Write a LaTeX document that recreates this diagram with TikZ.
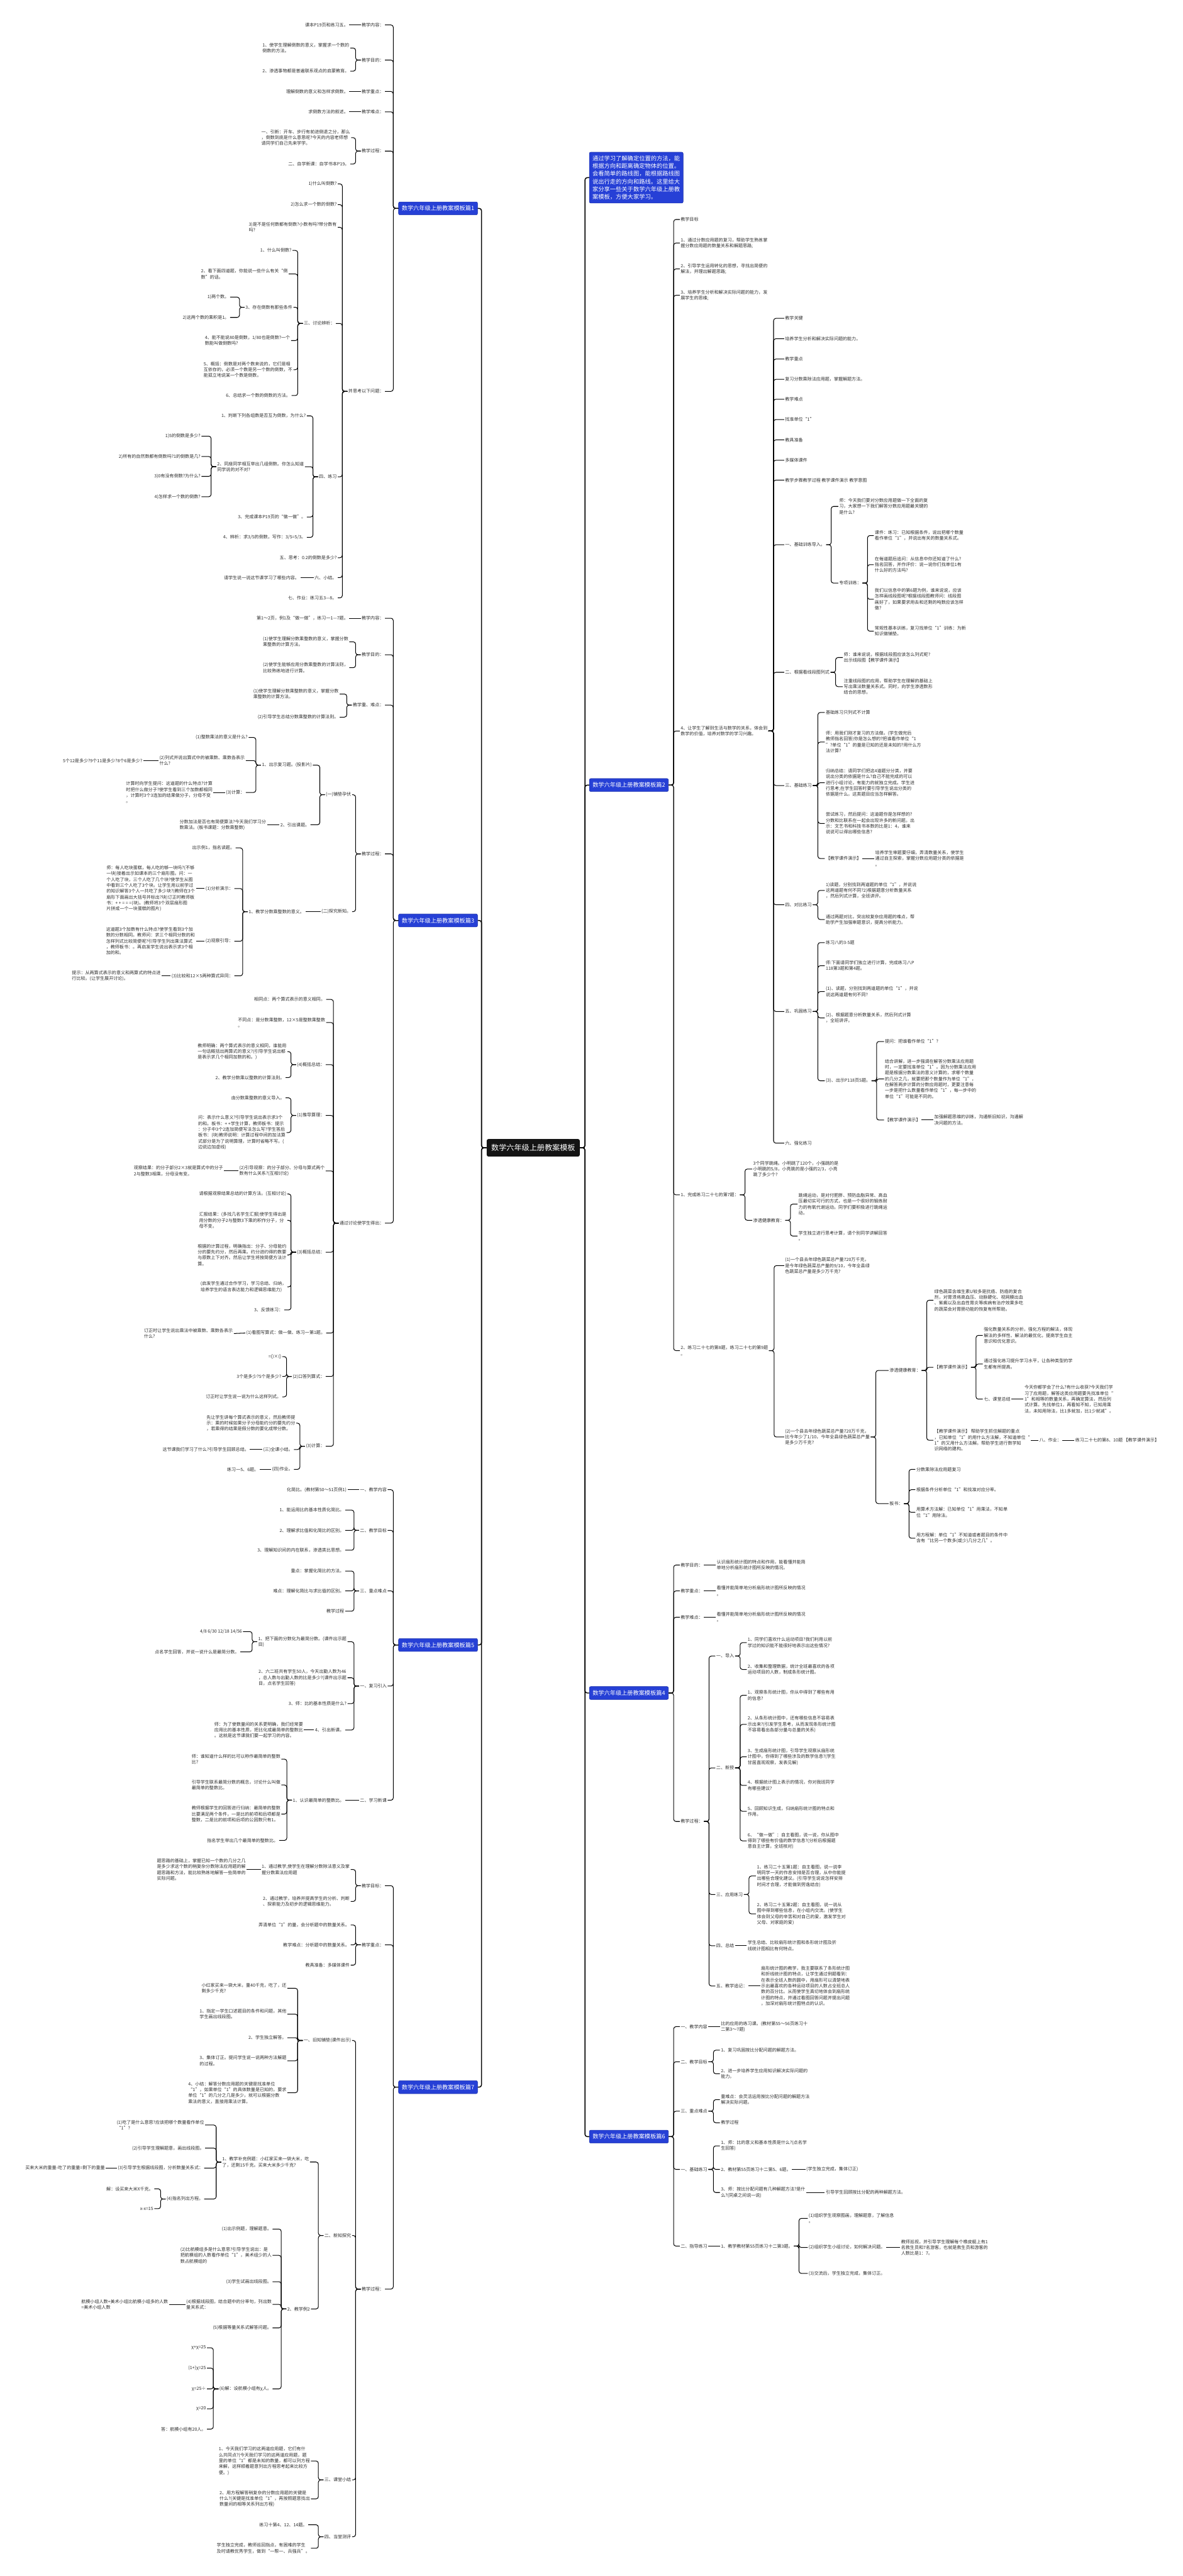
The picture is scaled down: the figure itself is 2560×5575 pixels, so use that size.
\documentclass[tikz,border=0pt]{standalone}
\usepackage{fontspec}
\setmainfont{Noto Sans CJK SC}
\definecolor{pianblue}{RGB}{38,64,214}
\definecolor{hubblack}{RGB}{20,20,20}
\definecolor{txtgray}{RGB}{45,45,45}
\newcommand{\leaffont}{\fontsize{9.6}{12.7}\selectfont}
\newcommand{\pianfont}{\fontsize{12.5}{15}\selectfont}
\newcommand{\hubfont}{\fontsize{16.5}{20}\selectfont}
\newcommand{\introfont}{\fontsize{12.6}{16.8}\selectfont}
\tikzset{
  leaf/.style={font=\leaffont, text=txtgray, align=left, inner sep=2pt},
  lleaf/.style={leaf, anchor=east},
  rleaf/.style={leaf, anchor=west},
  pian/.style={fill=pianblue, draw=pianblue!80!black, line width=0.8pt, rounded corners=3pt, text=white, font=\pianfont, inner xsep=7pt, minimum height=28pt},
  hub/.style={fill=hubblack, rounded corners=4pt, text=white, font=\hubfont, inner xsep=10pt, minimum height=38pt},
  introbox/.style={fill=pianblue, draw=pianblue!80!black, line width=0.8pt, rounded corners=3pt, text=white, font=\introfont, align=left, inner sep=7pt},
  link/.style={draw, line width=1.4pt},
  main/.style={line width=2pt},
  tol/.style={link, rounded corners=5pt, to path={-- ++(-11,0) |- (\tikztotarget)}},
  tor/.style={link, rounded corners=5pt, to path={-- ++(11,0) |- (\tikztotarget)}},
}
\begin{document}
\begin{tikzpicture}[x=1pt, y=-1pt]
\useasboundingbox (0,0) rectangle (2560,5575);
\fill[white] (0,0) rectangle (2560,5575);

% centre and branches
\node[hub] (root) at (1154,2484) {数学六年级上册教案模板};
\node[introbox, anchor=north west] (intro) at (1275,329) {通过学习了解确定位置的方法，能\\根据方向和距离确定物体的位置。\\会看简单的路线图，能根据路线图\\说出行走的方向和路线。这里给大\\家分享一些关于数学六年级上册教\\案模板，方便大家学习。};
\node[pian] (P1) at (948,451) {数学六年级上册教案模板篇1};
\node[pian] (P3) at (948,1992) {数学六年级上册教案模板篇3};
\node[pian] (P5) at (948,3560) {数学六年级上册教案模板篇5};
\node[pian] (P7) at (948,4517) {数学六年级上册教案模板篇7};
\node[pian] (P2) at (1361,1699) {数学六年级上册教案模板篇2};
\node[pian] (P4) at (1361,3664) {数学六年级上册教案模板篇4};
\node[pian] (P6) at (1361,4624) {数学六年级上册教案模板篇6};
\path (root.west) edge[tol,main] (P1.east) edge[tol,main] (P3.east) edge[tol,main] (P5.east) edge[tol,main] (P7.east);
\path (root.east) edge[tor,main] (intro.west) edge[tor,main] (P2.west) edge[tor,main] (P4.west) edge[tor,main] (P6.west);

% 篇1
\node[lleaf] (a1) at (833,54) {教学内容：};
\node[lleaf] (a2) at (833,130) {教学目的：};
\node[lleaf] (a3) at (833,198) {教学重点：};
\node[lleaf] (a4) at (833,242) {教学难点：};
\node[lleaf] (a5) at (833,327) {教学过程：};
\node[lleaf] (a6) at (833,847) {并思考以下问题：};
\node[lleaf] (a11) at (756,54) {课本P19页和练习五。};
\node[lleaf] (a21) at (758,104) {1、使学生理解倒数的意义，掌握求一个数的\\倒数的方法。};
\node[lleaf] (a22) at (758,154) {2、渗透事物都是普遍联系观点的启蒙教育。};
\node[lleaf] (a31) at (756,198) {理解倒数的意义和怎样求倒数。};
\node[lleaf] (a41) at (756,242) {求倒数方法的叙述。};
\node[lleaf] (a51) at (760,298) {一、引新：开车、步行有前进倒退之分，那么\\，倒数到底是什么意思呢?今天的内容老师想\\请同学们自己先来学学。};
\node[lleaf] (a52) at (758,355) {二、自学新课：自学书本P19。};
\node[lleaf] (a61) at (731,398) {1)什么叫倒数?};
\node[lleaf] (a62) at (731,443) {2)怎么求一个数的倒数?};
\node[lleaf] (a63) at (731,492) {3)是不是任何数都有倒数?小数有吗?带分数有\\吗?};
\node[lleaf] (a64) at (727,700) {三、讨论辨析：};
\node[lleaf] (a65) at (731,1032) {四、练习};
\node[lleaf] (a66) at (731,1207) {五、思考：0.2的倒数是多少?};
\node[lleaf] (a67) at (731,1250) {六、小结。};
\node[lleaf] (a68) at (731,1294) {七、作业：练习五3—8。};
\node[lleaf] (a641) at (633,542) {1、什么叫倒数?};
\node[lleaf] (a642) at (625,593) {2、看下面四道题，你能说一些什么有关“倒\\数”的话。};
\node[lleaf] (a643) at (635,665) {3、存在倒数有那些条件};
\node[lleaf] (a644) at (630,737) {4、能不能说80是倒数，1/80也是倒数?一个\\数能叫做倒数吗?};
\node[lleaf] (a645) at (635,800) {5、概括：倒数是对两个数来说的，它们是相\\互依存的，必须一个数是另一个数的倒数，不\\能孤立地说某一个数是倒数。};
\node[lleaf] (a646) at (631,856) {6、总结求一个数的倒数的方法。};
\node[lleaf] (a6431) at (498,643) {1)两个数。};
\node[lleaf] (a6432) at (498,687) {2)这两个数的乘积是1。};
\node[lleaf] (a651) at (664,900) {1、判断下列各组数是否互为倒数，为什么?};
\node[lleaf] (a652) at (660,1010) {2、同座同学相互举出几组倒数。你怎么知道\\同学说的对不对?};
\node[lleaf] (a653) at (664,1119) {3、完成课本P19页的“做一做”。};
\node[lleaf] (a654) at (664,1163) {4、辨析：求3/5的倒数，写作：3/5=5/3。};
\node[lleaf] (a6521) at (436,944) {1)5的倒数是多少?};
\node[lleaf] (a6522) at (436,988) {2)所有的自然数都有倒数吗?1的倒数是几?};
\node[lleaf] (a6523) at (436,1031) {3)0有没有倒数?为什么?};
\node[lleaf] (a6524) at (436,1075) {4)怎样求一个数的倒数?};
\node[lleaf] (a671) at (650,1250) {请学生说一说这节课学习了哪些内容。};
\path (P1.west) edge[tol] (a1.east) edge[tol] (a2.east) edge[tol] (a3.east) edge[tol] (a4.east) edge[tol] (a5.east) edge[tol] (a6.east);
\draw[link] (a1.west) -- (a11.east);
\path (a2.west) edge[tol] (a21.east) edge[tol] (a22.east);
\draw[link] (a3.west) -- (a31.east);
\draw[link] (a4.west) -- (a41.east);
\path (a5.west) edge[tol] (a51.east) edge[tol] (a52.east);
\path (a6.west) edge[tol] (a61.east) edge[tol] (a62.east) edge[tol] (a63.east) edge[tol] (a64.east) edge[tol] (a65.east) edge[tol] (a66.east) edge[tol] (a67.east) edge[tol] (a68.east);
\path (a64.west) edge[tol] (a641.east) edge[tol] (a642.east) edge[tol] (a643.east) edge[tol] (a644.east) edge[tol] (a645.east) edge[tol] (a646.east);
\path (a643.west) edge[tol] (a6431.east) edge[tol] (a6432.east);
\path (a65.west) edge[tol] (a651.east) edge[tol] (a652.east) edge[tol] (a653.east) edge[tol] (a654.east);
\path (a652.west) edge[tol] (a6521.east) edge[tol] (a6522.east) edge[tol] (a6523.east) edge[tol] (a6524.east);
\draw[link] (a67.west) -- (a671.east);

% 篇3
\node[lleaf] (b1) at (833,1338) {教学内容：};
\node[lleaf] (b2) at (833,1417) {教学目的：};
\node[lleaf] (b3) at (833,1526) {教学重、难点：};
\node[lleaf] (b4) at (833,1848) {教学过程：};
\node[lleaf] (b5) at (833,2647) {通过讨论使学生得出：};
\node[lleaf] (b11) at (756,1338) {第1～2页，例1及“做一做”，练习一1—7题。};
\node[lleaf] (b21) at (756,1389) {(1)使学生理解分数乘整数的意义，掌握分数\\乘整数的计算方法。};
\node[lleaf] (b22) at (756,1445) {(2)使学生能够应用分数乘整数的计算法则，\\比较熟练地进行计算。};
\node[lleaf] (b31) at (735,1502) {(1)使学生理解分数乘整数的意义，掌握分数\\乘整数的计算方法。};
\node[lleaf] (b32) at (735,1552) {(2)引导学生总结分数乘整数的计算法则。};
\node[lleaf] (b41) at (762,1720) {(一)铺垫孕伏};
\node[lleaf] (b42) at (762,1973) {(二)探究新知。};
\node[lleaf] (b411) at (677,1656) {1、出示复习题。(投影片)};
\node[lleaf] (b412) at (672,1785) {2、引出课题。};
\node[lleaf] (b4111) at (538,1596) {(1)整数乘法的意义是什么?};
\node[lleaf] (b4112) at (532,1646) {(2)列式并说出算式中的被乘数、乘数各表示\\什么?};
\node[lleaf] (b4113) at (532,1715) {(3)计算：};
\node[lleaf] (b41121) at (310,1646) {5个12是多少?9个11是多少?8个6是多少?};
\node[lleaf] (b41131) at (462,1715) {计算时向学生提问：这道题的什么特点?计算\\时把什么做分子?使学生看到三个加数都相同\\，计算时3个3连加的结果做分子，分母不变\\。};
\node[lleaf] (b4121) at (578,1785) {分数加法是否也有简便算法?今天我们学习分\\数乘法。(板书课题：分数乘整数)};
\node[lleaf] (b421) at (661,1973) {1、教学分数乘整数的意义。};
\node[lleaf] (b4211) at (510,1835) {出示例1，指名读题。};
\node[lleaf] (b4212) at (507,1923) {(1)分析演示：};
\node[lleaf] (b4213) at (507,2037) {(2)观察引导：};
\node[lleaf] (b4214) at (507,2112) {(3)比较和12×5两种算式异同：};
\node[lleaf] (b42121) at (424,1923) {师：每人吃块蛋糕，每人吃的够一块吗?(不够\\一块)接着出示如课本的三个扇形图。问：一\\个人吃了块，三个人吃了几个块?使学生从图\\中看到三个人吃了3个块。让学生用以前学过\\的知识解答3个人一共吃了多少块?(教师在3个\\扇形下面画出大括号并标出?块)订正时教师板\\书：+ + = = =(块)。(教师将3个双层扇形图\\片拼成一个一块蛋糕的图片)};
\node[lleaf] (b42131) at (424,2037) {这道题3个加数有什么特点?使学生看到3个加\\数的分数相同。教师问：求三个相同分数的和\\怎样列式比较简便呢?引导学生列出乘法算式\\，教师板书：。再启发学生说出表示求3个相\\加的和。};
\node[lleaf] (b42141) at (350,2112) {提示：从两算式表示的意义和两算式的特点进\\行比较。(让学生展开讨论)。};
\node[lleaf] (b51) at (706,2163) {相同点：两个算式表示的意义相同。};
\node[lleaf] (b52) at (706,2213) {不同点：是分数乘整数，12×5是整数乘整数\\。};
\node[lleaf] (b53) at (705,2304) {(4)概括总结：};
\node[lleaf] (b54) at (705,2414) {(1)推导算理：};
\node[lleaf] (b55) at (705,2534) {(2)引导观察：的分子部分、分母与算式两个\\数有什么关系?(互相讨论)};
\node[lleaf] (b56) at (705,2710) {(3)概括总结：};
\node[lleaf] (b57) at (706,2885) {(1)看图写算式：做一做、练习一第1题。};
\node[lleaf] (b58) at (705,2979) {(2)口答列算式：};
\node[lleaf] (b59) at (705,3130) {(3)计算：};
\node[lleaf] (b531) at (622,2276) {教师明确：两个算式表示的意义相同，谁能用\\一句话概括出两算式的意义?(引导学生说出都\\是表示求几个相同加数的和。)};
\node[lleaf] (b532) at (618,2332) {2、教学分数乘以整数的计算法则。};
\node[lleaf] (b541) at (618,2376) {由分数乘整数的意义导入。};
\node[lleaf] (b542) at (620,2451) {问：表示什么意义?引导学生说出表示求3个\\的和。板书：+ +学生计算，教师板书：提示\\：分子中3个2连加简便写法怎么写?学生答后\\板书：(块)教师说明：计算过程中间的加法算\\式部分是为了说明算理，计算时省略不写。(\\边说边加虚线)};
\node[lleaf] (b551) at (485,2534) {观察结果：的分子部分2×3就是算式中的分子\\2与整数3相乘，分母没有变。};
\node[lleaf] (b561) at (622,2584) {请根据观察结果总结的计算方法。(互相讨论)};
\node[lleaf] (b562) at (622,2641) {汇报结果：(多找几名学生汇报)使学生得出是\\用分数的分子2与整数3下乘的积作分子，分\\母不变。};
\node[lleaf] (b563) at (622,2716) {根据的计算过程，明确指出：分子、分母能约\\分的要先约分，然后再乘。约分进约得的数要\\与原数上下对齐。然后让学生将按简便方法计\\算。};
\node[lleaf] (b564) at (622,2785) {(启发学生通过合作学习，学习总结、归纳，\\培养学生的语言表达能力和逻辑思维能力)};
\node[lleaf] (b565) at (615,2835) {3、反馈练习：};
\node[lleaf] (b571) at (506,2886) {订正时让学生说出乘法中被乘数、乘数各表示\\什么?};
\node[lleaf] (b581) at (611,2936) {=()×()};
\node[lleaf] (b582) at (611,2979) {3个是多少?5个是多少?};
\node[lleaf] (b583) at (611,3023) {订正时让学生说一说为什么这样列式。};
\node[lleaf] (b591) at (641,3080) {先让学生讲每个算式表示的意义，然后教师提\\示：乘的时候如果分子分母能约分的要先约分\\，若乘得的结果是假分数的要化成带分数。};
\node[lleaf] (b592) at (636,3137) {(三)全课小结。};
\node[lleaf] (b593) at (636,3180) {(四)作业。};
\node[lleaf] (b5921) at (541,3137) {这节课我们学习了什么?引导学生回顾总结。};
\node[lleaf] (b5931) at (562,3180) {练习一5、6题。};
\path (P3.west) edge[tol] (b1.east) edge[tol] (b2.east) edge[tol] (b3.east) edge[tol] (b4.east) edge[tol] (b5.east);
\draw[link] (b1.west) -- (b11.east);
\path (b2.west) edge[tol] (b21.east) edge[tol] (b22.east);
\path (b3.west) edge[tol] (b31.east) edge[tol] (b32.east);
\path (b4.west) edge[tol] (b41.east) edge[tol] (b42.east);
\path (b41.west) edge[tol] (b411.east) edge[tol] (b412.east);
\path (b411.west) edge[tol] (b4111.east) edge[tol] (b4112.east) edge[tol] (b4113.east);
\draw[link] (b4112.west) -- (b41121.east);
\draw[link] (b4113.west) -- (b41131.east);
\draw[link] (b412.west) -- (b4121.east);
\draw[link] (b42.west) -- (b421.east);
\path (b421.west) edge[tol] (b4211.east) edge[tol] (b4212.east) edge[tol] (b4213.east) edge[tol] (b4214.east);
\draw[link] (b4212.west) -- (b42121.east);
\draw[link] (b4213.west) -- (b42131.east);
\draw[link] (b4214.west) -- (b42141.east);
\path (b5.west) edge[tol] (b51.east) edge[tol] (b52.east) edge[tol] (b53.east) edge[tol] (b54.east) edge[tol] (b55.east) edge[tol] (b56.east) edge[tol] (b57.east) edge[tol] (b58.east) edge[tol] (b59.east);
\path (b53.west) edge[tol] (b531.east) edge[tol] (b532.east);
\path (b54.west) edge[tol] (b541.east) edge[tol] (b542.east);
\draw[link] (b55.west) -- (b551.east);
\path (b56.west) edge[tol] (b561.east) edge[tol] (b562.east) edge[tol] (b563.east) edge[tol] (b564.east) edge[tol] (b565.east);
\draw[link] (b57.west) -- (b571.east);
\path (b58.west) edge[tol] (b581.east) edge[tol] (b582.east) edge[tol] (b583.east);
\path (b59.west) edge[tol] (b591.east) edge[tol] (b592.east) edge[tol] (b593.east);
\draw[link] (b592.west) -- (b5921.east);
\draw[link] (b593.west) -- (b5931.east);

% 篇5
\node[lleaf] (c1) at (839,3224) {一、教学内容};
\node[lleaf] (c2) at (839,3312) {二、教学目标};
\node[lleaf] (c3) at (839,3443) {三、重点难点};
\node[lleaf] (c4) at (839,3649) {一、复习引入};
\node[lleaf] (c5) at (839,3896) {二、学习新课};
\node[lleaf] (c11) at (752,3224) {化简比。(教材第50～51页例1)};
\node[lleaf] (c21) at (747,3268) {1、能运用比的基本性质化简比。};
\node[lleaf] (c22) at (747,3312) {2、理解求比值和化简比的区别。};
\node[lleaf] (c23) at (747,3355) {3、理解知识间的内在联系，渗透类比思想。};
\node[lleaf] (c31) at (747,3400) {重点：掌握化简比的方法。};
\node[lleaf] (c32) at (747,3443) {难点：理解化简比与求比值的区别。};
\node[lleaf] (c33) at (747,3487) {教学过程};
\node[lleaf] (c41) at (752,3553) {1、把下面的分数化为最简分数。(课件出示题\\目)};
\node[lleaf] (c42) at (752,3631) {2、六二班共有学生50人，今天出勤人数为46\\，总人数与出勤人数的比是多少?(课件出示题\\目，点名学生回答)};
\node[lleaf] (c43) at (752,3687) {3、师：比的基本性质是什么?};
\node[lleaf] (c44) at (747,3744) {4、引出新课。};
\node[lleaf] (c411) at (526,3531) {4/8 6/30 12/18 14/56};
\node[lleaf] (c412) at (520,3575) {点名学生回答，并说一说什么是最简分数。};
\node[lleaf] (c441) at (658,3744) {师：为了使数量间的关系更明确，我们经常要\\应用比的基本性质，把比化成最简单的整数比\\。这就是这节课我们要一起学习的内容。};
\node[lleaf] (c51) at (747,3896) {1、认识最简单的整数比。};
\node[lleaf] (c511) at (609,3807) {师：谁知道什么样的比可以称作最简单的整数\\比?};
\node[lleaf] (c512) at (609,3863) {引导学生联系最简分数的概念，讨论什么叫做\\最简单的整数比。};
\node[lleaf] (c513) at (609,3926) {教师根据学生的回答进行归纳：最简单的整数\\比要满足两个条件，一是比的前项和后项都是\\整数，二是比的前项和后项的公因数只有1。};
\node[lleaf] (c514) at (604,3983) {指名学生举出几个最简单的整数比。};
\path (P5.west) edge[tol] (c1.east) edge[tol] (c2.east) edge[tol] (c3.east) edge[tol] (c4.east) edge[tol] (c5.east);
\draw[link] (c1.west) -- (c11.east);
\path (c2.west) edge[tol] (c21.east) edge[tol] (c22.east) edge[tol] (c23.east);
\path (c3.west) edge[tol] (c31.east) edge[tol] (c32.east) edge[tol] (c33.east);
\path (c4.west) edge[tol] (c41.east) edge[tol] (c42.east) edge[tol] (c43.east) edge[tol] (c44.east);
\path (c41.west) edge[tol] (c411.east) edge[tol] (c412.east);
\draw[link] (c44.west) -- (c441.east);
\draw[link] (c5.west) -- (c51.east);
\path (c51.west) edge[tol] (c511.east) edge[tol] (c512.east) edge[tol] (c513.east) edge[tol] (c514.east);

% 篇7
\node[lleaf] (d1) at (833,4081) {教学目标：};
\node[lleaf] (d2) at (833,4209) {教学重点：};
\node[lleaf] (d3) at (833,4954) {教学过程：};
\node[lleaf] (d11) at (759,4046) {1、通过教学,使学生在理解分数除法意义及掌\\握分数乘法应用题};
\node[lleaf] (d12) at (759,4115) {2、通过教学，培养并提高学生的分析、判断\\、探索能力及初步的逻辑思维能力。};
\node[lleaf] (d111) at (534,4046) {题思路的基础上，掌握已知一个数的几分之几\\是多少求这个数的稍复杂分数除法应用题的解\\题思路和方法，能比较熟练地解答一些简单的\\实际问题。};
\node[lleaf] (d21) at (759,4166) {弄清单位“1”的量，会分析题中的数量关系。};
\node[lleaf] (d22) at (759,4209) {教学难点：分析题中的数量关系。};
\node[lleaf] (d23) at (759,4253) {教具准备：多媒体课件};
\node[lleaf] (d31) at (762,4416) {一、旧知铺垫(课件出示)};
\node[lleaf] (d32) at (762,4838) {二、新知探究};
\node[lleaf] (d33) at (762,5367) {三、课堂小结};
\node[lleaf] (d34) at (762,5490) {四、当堂测评};
\node[lleaf] (d311) at (622,4303) {小红家买来一袋大米，重40千克，吃了，还\\剩多少千克?};
\node[lleaf] (d312) at (622,4359) {1、指定一学生口述题目的条件和问题，其他\\学生画出线段图。};
\node[lleaf] (d313) at (622,4410) {2、学生独立解答。};
\node[lleaf] (d314) at (622,4460) {3、集体订正。提问学生说一说两种方法解题\\的过程。};
\node[lleaf] (d315) at (622,4529) {4、小结：解答分数应用题的关键是找准单位\\“1”，如果单位“1”的具体数量是已知的，要求\\单位“1”的几分之几是多少，就可以根据分数\\乘法的意义，直接用乘法计算。};
\node[lleaf] (d321) at (671,4679) {1、教学补充例题：小红家买来一袋大米，吃\\了，还剩15千克。买来大米多少千克?};
\node[lleaf] (d322) at (673,4997) {2、教学例2};
\node[lleaf] (d3211) at (444,4599) {(1)吃了是什么意思?应该把哪个数量看作单位\\“1”?};
\node[lleaf] (d3212) at (444,4649) {(2)引导学生理解题意，画出线段图。};
\node[lleaf] (d3213) at (442,4692) {(3)引导学生根据线段图，分析数量关系式：};
\node[lleaf] (d3214) at (442,4759) {(4)指名列出方程。};
\node[lleaf] (d32131) at (229,4692) {买来大米的重量-吃了的重量=剩下的重量};
\node[lleaf] (d32141) at (334,4737) {解：设买来大米X千克。};
\node[lleaf] (d32142) at (334,4780) {x-x=15};
\node[lleaf] (d3221) at (590,4824) {(1)出示例题，理解题意。};
\node[lleaf] (d3222) at (590,4881) {(2)比航模组多是什么意思?引导学生说出：是\\把航模组的人数看作单位“1”，美术组少的人\\数占航模组的};
\node[lleaf] (d3223) at (590,4938) {(3)学生试画出线段图。};
\node[lleaf] (d3224) at (590,4987) {(4)根据线段图，结合题中的分率句，列出数\\量关系式：};
\node[lleaf] (d3225) at (590,5038) {(5)根据等量关系式解答问题。};
\node[lleaf] (d3226) at (590,5170) {(6)解：设航模小组有χ人。};
\node[lleaf] (d32241) at (366,4987) {航模小组人数+美术小组比航模小组多的人数\\=美术小组人数};
\node[lleaf] (d32261) at (448,5081) {χ+χ=25};
\node[lleaf] (d32262) at (448,5125) {(1+)χ=25};
\node[lleaf] (d32263) at (448,5170) {χ=25÷};
\node[lleaf] (d32264) at (448,5213) {χ=20};
\node[lleaf] (d32265) at (448,5257) {答：航模小组有20人。};
\node[lleaf] (d331) at (673,5326) {1、今天我们学习的这两道应用题，它们有什\\么共同点?(今天我们学习的这两道应用题，题\\里的单位“1”都是未知的数量，都可以列方程\\来解，这样顺着题意列出方程思考起来比较方\\便。)};
\node[lleaf] (d332) at (673,5408) {2、用方程解答稍复杂的分数应用题的关键是\\什么?(关键是找准单位“1”，再按照题意找出\\数量间的相等关系列出方程)};
\node[lleaf] (d341) at (667,5464) {练习十第4、12、14题。};
\node[lleaf] (d342) at (673,5515) {学生独立完成，教师巡回指点，有困难的学生\\及时请教优秀学生，做到“一帮一、兵强兵”。};
\path (P7.west) edge[tol] (d1.east) edge[tol] (d2.east) edge[tol] (d3.east);
\path (d1.west) edge[tol] (d11.east) edge[tol] (d12.east);
\draw[link] (d11.west) -- (d111.east);
\path (d2.west) edge[tol] (d21.east) edge[tol] (d22.east) edge[tol] (d23.east);
\path (d3.west) edge[tol] (d31.east) edge[tol] (d32.east) edge[tol] (d33.east) edge[tol] (d34.east);
\path (d31.west) edge[tol] (d311.east) edge[tol] (d312.east) edge[tol] (d313.east) edge[tol] (d314.east) edge[tol] (d315.east);
\path (d32.west) edge[tol] (d321.east) edge[tol] (d322.east);
\path (d321.west) edge[tol] (d3211.east) edge[tol] (d3212.east) edge[tol] (d3213.east) edge[tol] (d3214.east);
\draw[link] (d3213.west) -- (d32131.east);
\path (d3214.west) edge[tol] (d32141.east) edge[tol] (d32142.east);
\path (d322.west) edge[tol] (d3221.east) edge[tol] (d3222.east) edge[tol] (d3223.east) edge[tol] (d3224.east) edge[tol] (d3225.east) edge[tol] (d3226.east);
\draw[link] (d3224.west) -- (d32241.east);
\path (d3226.west) edge[tol] (d32261.east) edge[tol] (d32262.east) edge[tol] (d32263.east) edge[tol] (d32264.east) edge[tol] (d32265.east);
\path (d33.west) edge[tol] (d331.east) edge[tol] (d332.east);
\path (d34.west) edge[tol] (d341.east) edge[tol] (d342.east);

% 篇2
\node[rleaf] (e1) at (1471,475) {教学目标};
\node[rleaf] (e2) at (1471,526) {1、通过分数应用题的复习，帮助学生熟练掌\\握分数应用题的数量关系和解题思路;};
\node[rleaf] (e3) at (1471,582) {2、引导学生运用转化的思想，寻找出简便的\\解法，并理出解题思路;};
\node[rleaf] (e4) at (1471,639) {3、培养学生分析和解决实际问题的能力，发\\展学生的思维;};
\node[rleaf] (e5) at (1471,1582) {4、让学生了解到生活与数学的关系，体会到\\数学的价值，培养对数学的学习兴趣。};
\node[rleaf] (e6) at (1471,2586) {1、完成练习二十七的第7题：};
\node[rleaf] (e7) at (1471,2923) {2、练习二十七的第8题，练习二十七的第9题\\。};
\node[rleaf] (e51) at (1697,689) {教学关键};
\node[rleaf] (e52) at (1697,733) {培养学生分析和解决实际问题的能力。};
\node[rleaf] (e53) at (1697,777) {教学重点};
\node[rleaf] (e54) at (1697,821) {复习分数乘除法应用题，掌握解题方法。};
\node[rleaf] (e55) at (1697,864) {教学难点};
\node[rleaf] (e56) at (1697,908) {找准单位“1”};
\node[rleaf] (e57) at (1697,952) {教具准备};
\node[rleaf] (e58) at (1697,996) {多媒体课件};
\node[rleaf] (e59) at (1697,1039) {教学步骤教学过程 教学课件演示 教学意图};
\node[rleaf] (e5a) at (1697,1179) {一、基础训练导入。};
\node[rleaf] (e5b) at (1697,1455) {二、根据看线段图列式};
\node[rleaf] (e5c) at (1697,1700) {三、基础练习};
\node[rleaf] (e5d) at (1697,1958) {四、对比练习};
\node[rleaf] (e5e) at (1697,2189) {五、巩固练习};
\node[rleaf] (e5f) at (1697,2474) {六、强化练习};
\node[rleaf] (e5a1) at (1814,1096) {师：今天我们要对分数应用题做一下全面的复\\习，大家想一下我们解答分数应用题最关键的\\是什么?};
\node[rleaf] (e5a2) at (1814,1262) {专项训练：};
\node[rleaf] (e5a21) at (1891,1159) {课件：练习：已知根据条件，说出把哪个数量\\看作单位“1”，并说出有关的数量关系式。};
\node[rleaf] (e5a22) at (1891,1222) {在每道题后追问：从信息中你还知道了什么?\\指名回答，并作评价：说一说你们找单位1有\\什么好的方法吗?};
\node[rleaf] (e5a23) at (1891,1297) {我们以信息中的第6题为例，谁来说说，应该\\怎样画线段图呢?根据线段图教师问：线段图\\画好了，如果要求用去和还剩的吨数应该怎样\\做?};
\node[rleaf] (e5a24) at (1891,1366) {常规性基本训练，复习找单位“1”训练：为新\\知识做铺垫。};
\node[rleaf] (e5b1) at (1824,1423) {师：谁来说说，根据线段图应该怎么列式呢?\\出示线段图【教学课件演示】};
\node[rleaf] (e5b2) at (1824,1486) {注重线段图的应用，帮助学生在理解的基础上\\写出乘法数量关系式。同时，向学生渗透数形\\结合的思想。};
\node[rleaf] (e5c1) at (1785,1542) {基础练习只列式不计算};
\node[rleaf] (e5c2) at (1785,1606) {师：用我们刚才复习的方法做。(学生做完后\\教师指名回答)你是怎么想的?把谁看作单位“1\\”?单位“1”的量是已知的还是未知的?用什么方\\法计算?};
\node[rleaf] (e5c3) at (1785,1694) {归纳总结：请同学们把这4道题分分类，并要\\说出分类的依据是什么?自己不能完成的可以\\进行小组讨论，有能力的就独立完成。学生进\\行思考;在学生回答时要引导学生说出分类的\\依据是什么。这类题目应当怎样解答。};
\node[rleaf] (e5c4) at (1785,1782) {尝试练习，然后提问：这道题你是怎样想的?\\分数和比联系在一起会出现许多的新问题。出\\示：文艺书和科技书本数的比是1：4，谁来\\说说可以得出哪些信息?};
\node[rleaf] (e5c5) at (1785,1858) {【教学课件演示】};
\node[rleaf] (e5c51) at (1892,1858) {培养学生审题要仔细，弄清数量关系，使学生\\通过自主探索，掌握分数应用题分类的依据是\\。};
\node[rleaf] (e5d1) at (1785,1927) {1)读题，分别找到两道题的单位“1”，并说说\\这两道题有何不同?2)根据题意分析数量关系\\，然后列式计算，全班讲评。};
\node[rleaf] (e5d2) at (1785,1990) {通过两题对比，突出较复杂应用题的难点，帮\\助学产生加强审题意识，提高分析能力。};
\node[rleaf] (e5e1) at (1785,2040) {练习八的3-5题};
\node[rleaf] (e5e2) at (1785,2090) {师:下面请同学们独立进行计算，完成练习八P\\118第3题和第4题。};
\node[rleaf] (e5e3) at (1785,2146) {(1)、读题，分别找到两道题的单位“1”，并说\\说这两道题有何不同?};
\node[rleaf] (e5e4) at (1785,2203) {(2)、根据题意分析数量关系，然后列式计算\\，全班讲评。};
\node[rleaf] (e5e5) at (1785,2339) {(3)、出示P118页5题。};
\node[rleaf] (e5e51) at (1913,2254) {提问：把谁看作单位“1”?};
\node[rleaf] (e5e52) at (1913,2335) {结合讲解，进一步强调在解答分数乘法应用题\\时，一定要找准单位“1”。因为分数乘法应用\\题是根据分数乘法的意义计算的，求哪个数量\\的几分之几，就要把那个数量作为单位“1”，\\在解答两步计算的分数应用题时，更要注意每\\一步是把什么数量看作单位“1”，每一步中的\\单位“1”可能是不同的。};
\node[rleaf] (e5e53) at (1913,2424) {【教学课件演示】};
\node[rleaf] (e5e531) at (2020,2424) {加强解题思维的训练，沟通新旧知识，沟通解\\决问题的方法。};
\node[rleaf] (e61) at (1628,2530) {3个同学跳绳。小明跳了120个，小强跳的是\\小明跳的5/8，小亮跳的是小强的2/3，小亮\\跳了多少个?};
\node[rleaf] (e62) at (1628,2641) {渗透健康教育：};
\node[rleaf] (e621) at (1726,2606) {跳绳运动，是对付肥胖、预防血脂异常、高血\\压最切实可行的方式，也是一个很好的锻炼耐\\力的有氧代谢运动。同学们要积极进行跳绳运\\动。};
\node[rleaf] (e622) at (1726,2675) {学生独立进行思考计算，请个别同学讲解回答\\。};
\node[rleaf] (e71) at (1697,2739) {(1)一个县去年绿色蔬菜总产量720万千克，\\是今年绿色蔬菜总产量的9/10，今年全县绿\\色蔬菜总产量是多少万千克?};
\node[rleaf] (e72) at (1697,3110) {(2)一个县去年绿色蔬菜总产量720万千克，\\比今年少了1/10，今年全县绿色蔬菜总产量\\是多少万千克?};
\node[rleaf] (e721) at (1923,2966) {渗透健康教育：};
\node[rleaf] (e722) at (1923,3254) {板书：};
\node[rleaf] (e7211) at (2020,2814) {绿色蔬菜含维生素U较多是抗癌、防癌的复合\\剂，对胃溃疡高血压、动脉硬化、视网膜出血\\、紫癜以及出血性胃炎等疾病有治疗效果多吃\\的蔬菜会对胃肠功能的恢复有所帮助。};
\node[rleaf] (e7212) at (2020,2959) {【教学课件演示】};
\node[rleaf] (e7213) at (2020,3117) {【教学课件演示】 帮助学生抓住解题的重点\\，已知单位“1”的用什么方法解，不知道单位“\\1”的又用什么方法解。帮助学生进行数学知\\识网络的建构。};
\node[rleaf] (e72121) at (2127,2890) {强化数量关系的分析，强化方程的解法，体现\\解法的多样性、解法的最优化，提高学生自主\\意识和优化意识。};
\node[rleaf] (e72122) at (2127,2952) {通过强化练习提升学习水平，让各种类型的学\\生都有所提高。};
\node[rleaf] (e72123) at (2127,3028) {七、课堂总结};
\node[rleaf] (e721231) at (2215,3028) {今天你都学会了什么?有什么收获?今天我们学\\习了应用题，解答这类应用题要先找准单位“\\1”和相等的数量关系，再确定算法，然后列\\式计算。先找单位1，再看知不知，已知用乘\\法，未知用除法，比1多就加，比1少就减”。};
\node[rleaf] (e72131) at (2247,3117) {八、作业：};
\node[rleaf] (e721311) at (2325,3117) {练习二十七的第8、10题 【教学课件演示】};
\node[rleaf] (e7221) at (1981,3180) {分数乘除法应用题复习};
\node[rleaf] (e7222) at (1981,3224) {根据条件分析单位“1”和找准对应分率。};
\node[rleaf] (e7223) at (1981,3273) {用算术方法解：已知单位“1”用乘法，不知单\\位“1”用除法。};
\node[rleaf] (e7224) at (1981,3329) {用方程解：单位“1”不知道或者题目的条件中\\含有“比另一个数多(或少)几分之几”。};
\path (P2.east) edge[tor] (e1.west) edge[tor] (e2.west) edge[tor] (e3.west) edge[tor] (e4.west) edge[tor] (e5.west) edge[tor] (e6.west) edge[tor] (e7.west);
\path (e5.east) edge[tor] (e51.west) edge[tor] (e52.west) edge[tor] (e53.west) edge[tor] (e54.west) edge[tor] (e55.west) edge[tor] (e56.west) edge[tor] (e57.west) edge[tor] (e58.west) edge[tor] (e59.west) edge[tor] (e5a.west) edge[tor] (e5b.west) edge[tor] (e5c.west) edge[tor] (e5d.west) edge[tor] (e5e.west) edge[tor] (e5f.west);
\path (e5a.east) edge[tor] (e5a1.west) edge[tor] (e5a2.west);
\path (e5a2.east) edge[tor] (e5a21.west) edge[tor] (e5a22.west) edge[tor] (e5a23.west) edge[tor] (e5a24.west);
\path (e5b.east) edge[tor] (e5b1.west) edge[tor] (e5b2.west);
\path (e5c.east) edge[tor] (e5c1.west) edge[tor] (e5c2.west) edge[tor] (e5c3.west) edge[tor] (e5c4.west) edge[tor] (e5c5.west);
\draw[link] (e5c5.east) -- (e5c51.west);
\path (e5d.east) edge[tor] (e5d1.west) edge[tor] (e5d2.west);
\path (e5e.east) edge[tor] (e5e1.west) edge[tor] (e5e2.west) edge[tor] (e5e3.west) edge[tor] (e5e4.west) edge[tor] (e5e5.west);
\path (e5e5.east) edge[tor] (e5e51.west) edge[tor] (e5e52.west) edge[tor] (e5e53.west);
\draw[link] (e5e53.east) -- (e5e531.west);
\path (e6.east) edge[tor] (e61.west) edge[tor] (e62.west);
\path (e62.east) edge[tor] (e621.west) edge[tor] (e622.west);
\path (e7.east) edge[tor] (e71.west) edge[tor] (e72.west);
\path (e72.east) edge[tor] (e721.west) edge[tor] (e722.west);
\path (e721.east) edge[tor] (e7211.west) edge[tor] (e7212.west) edge[tor] (e7213.west);
\path (e7212.east) edge[tor] (e72121.west) edge[tor] (e72122.west) edge[tor] (e72123.west);
\draw[link] (e72123.east) -- (e721231.west);
\draw[link] (e7213.east) -- (e72131.west);
\draw[link] (e72131.east) -- (e721311.west);
\path (e722.east) edge[tor] (e7221.west) edge[tor] (e7222.west) edge[tor] (e7223.west) edge[tor] (e7224.west);

% 篇4
\node[rleaf] (f1) at (1471,3387) {教学目的：};
\node[rleaf] (f2) at (1471,3443) {教学重点：};
\node[rleaf] (f3) at (1471,3500) {教学难点：};
\node[rleaf] (f4) at (1471,3942) {教学过程：};
\node[rleaf] (f11) at (1549,3387) {认识扇形统计图的特点和作用，能看懂并能简\\单地分析扇形统计图所反映的情况。};
\node[rleaf] (f21) at (1549,3443) {看懂并能简单地分析扇形统计图所反映的情况\\。};
\node[rleaf] (f31) at (1549,3500) {看懂并能简单地分析扇形统计图所反映的情况\\。};
\node[rleaf] (f41) at (1548,3584) {一、导入};
\node[rleaf] (f42) at (1548,3826) {二、新授};
\node[rleaf] (f43) at (1548,4100) {三、应用练习};
\node[rleaf] (f44) at (1548,4211) {四、总结};
\node[rleaf] (f45) at (1548,4298) {五、教学追记：};
\node[rleaf] (f411) at (1616,3555) {1、同学们喜欢什么运动项目?我们利用以前\\学过的知识能不能很好地表示出这些情况?};
\node[rleaf] (f412) at (1616,3613) {2、收集和整理数据，统计全班最喜欢的各项\\运动项目的人数，制成条形统计图。};
\node[rleaf] (f421) at (1616,3669) {1、观察条形统计图，你从中得到了哪些有用\\的信息?};
\node[rleaf] (f422) at (1616,3732) {2、从条形统计图中，还有哪些信息不容易表\\示出来?(引发学生思考，从而发现条形统计图\\不容易看出各部分量与总量的关系)};
\node[rleaf] (f423) at (1616,3802) {3、生成扇形统计图，引导学生观察从扇形统\\计图中，你得到了哪些涉及的数学信息?(学生\\甘居直观观察，发表见解)};
\node[rleaf] (f424) at (1616,3864) {4、根据统计图上表示的情况，你对我班同学\\有哪些建议?};
\node[rleaf] (f425) at (1616,3920) {5、回顾知识生成，归纳扇形统计图的特点和\\作用。};
\node[rleaf] (f426) at (1616,3984) {6、“做一做”：自主看图，说一说，你从图中\\得到了哪些有价值的数学信息?(分析后根据题\\意自主计算，全班核对)};
\node[rleaf] (f431) at (1636,4060) {1、练习二十五第1题：自主看图，说一说李\\明同学一天的作息安排是否合理，从中你能提\\出哪些合理化建议。(引导学生说说怎样安排\\时间才合理，才能做到劳逸结合)};
\node[rleaf] (f432) at (1636,4142) {2、练习二十五第2题：自主看图，说一说从\\图中得到哪些信息，在小组内交流。(使学生\\体会到父母的辛苦和对自己的爱，激发学生对\\父母、对家庭的爱)};
\node[rleaf] (f441) at (1616,4211) {学生总结、比较扇形统计图和条形统计图及折\\线统计图相比有何特点。};
\node[rleaf] (f451) at (1645,4298) {扇形统计图的教学，我主要联系了条形统计图\\和折线统计图的特点，让学生通过例题看到：\\在表示全班人数的圆中，用扇形可以清楚地表\\示出最喜欢的各种运动项目的人数占全班总人\\数的百分比。从而使学生真切地体会到扇形统\\计图的特点，并通过看图回答问题并提出问题\\，加深对扇形统计图特点的认识。};
\path (P4.east) edge[tor] (f1.west) edge[tor] (f2.west) edge[tor] (f3.west) edge[tor] (f4.west);
\draw[link] (f1.east) -- (f11.west);
\draw[link] (f2.east) -- (f21.west);
\draw[link] (f3.east) -- (f31.west);
\path (f4.east) edge[tor] (f41.west) edge[tor] (f42.west) edge[tor] (f43.west) edge[tor] (f44.west) edge[tor] (f45.west);
\path (f41.east) edge[tor] (f411.west) edge[tor] (f412.west);
\path (f42.east) edge[tor] (f421.west) edge[tor] (f422.west) edge[tor] (f423.west) edge[tor] (f424.west) edge[tor] (f425.west) edge[tor] (f426.west);
\path (f43.east) edge[tor] (f431.west) edge[tor] (f432.west);
\draw[link] (f44.east) -- (f441.west);
\draw[link] (f45.east) -- (f451.west);

% 篇6
\node[rleaf] (g1) at (1471,4386) {一、教学内容};
\node[rleaf] (g2) at (1471,4462) {二、教学目标};
\node[rleaf] (g3) at (1471,4569) {三、重点难点};
\node[rleaf] (g4) at (1471,4695) {一、基础练习};
\node[rleaf] (g5) at (1471,4861) {二、指导练习};
\node[rleaf] (g11) at (1558,4386) {比的应用的练习课。(教材第55～56页练习十\\二第3～7题)};
\node[rleaf] (g21) at (1558,4437) {1、复习巩固按比分配问题的解题方法。};
\node[rleaf] (g22) at (1558,4488) {2、进一步培养学生应用知识解决实际问题的\\能力。};
\node[rleaf] (g31) at (1558,4544) {重难点：会灵活运用按比分配问题的解题方法\\解决实际问题。};
\node[rleaf] (g32) at (1558,4594) {教学过程};
\node[rleaf] (g41) at (1558,4644) {1、师：比的意义和基本性质是什么?(点名学\\生回答)};
\node[rleaf] (g42) at (1558,4695) {2、教材第55页练习十二第5、6题。};
\node[rleaf] (g43) at (1558,4745) {3、师：按比分配问题有几种解题方法?是什\\么?(同桌之间说一说)};
\node[rleaf] (g421) at (1743,4695) {(学生独立完成，集体订正)};
\node[rleaf] (g431) at (1785,4745) {引导学生回顾按比分配的两种解题方法。};
\node[rleaf] (g51) at (1558,4861) {1、教学教材第55页练习十二第3题。};
\node[rleaf] (g511) at (1748,4801) {(1)组织学生观察图画，理解题意，了解信息\\。};
\node[rleaf] (g512) at (1748,4864) {(2)组织学生小组讨论，如何解决问题。};
\node[rleaf] (g513) at (1748,4920) {(3)交流后，学生独立完成，集体订正。};
\node[rleaf] (g5121) at (1948,4864) {教师巡视，并引导学生理解每个橡皮艇上有1\\名救生员和7名游客，也就是救生员和游客的\\人数比是1：7。};
\path (P6.east) edge[tor] (g1.west) edge[tor] (g2.west) edge[tor] (g3.west) edge[tor] (g4.west) edge[tor] (g5.west);
\draw[link] (g1.east) -- (g11.west);
\path (g2.east) edge[tor] (g21.west) edge[tor] (g22.west);
\path (g3.east) edge[tor] (g31.west) edge[tor] (g32.west);
\path (g4.east) edge[tor] (g41.west) edge[tor] (g42.west) edge[tor] (g43.west);
\draw[link] (g42.east) -- (g421.west);
\draw[link] (g43.east) -- (g431.west);
\draw[link] (g5.east) -- (g51.west);
\path (g51.east) edge[tor] (g511.west) edge[tor] (g512.west) edge[tor] (g513.west);
\draw[link] (g512.east) -- (g5121.west);
\end{tikzpicture}
\end{document}
